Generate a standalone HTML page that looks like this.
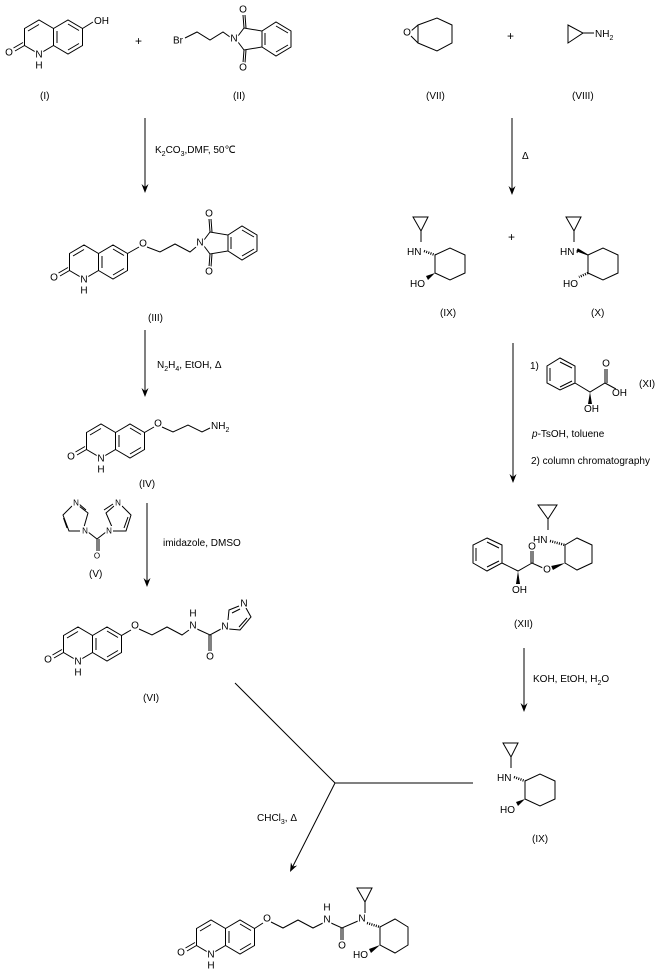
<!DOCTYPE html>
<html><head><meta charset="utf-8"><style>
html,body{margin:0;padding:0;background:#fff;}
svg{display:block;}
text{font-family:"Liberation Sans",Arial,sans-serif;font-size:10px;fill:#000;}
.m{stroke:#fff;stroke-width:3;paint-order:stroke;text-anchor:middle;dominant-baseline:central;}
.l{fill:none;stroke:#000;stroke-width:1;}
.s{font-size:7px;}
</style></head><body>
<svg width="661" height="974" viewBox="0 0 661 974" xmlns="http://www.w3.org/2000/svg">
<defs>
<g id="q">
<path class="l" d="M24.5,28.5 L39,20 L53.5,28.5 L53.5,45.5 L39,54 L24.5,45.5 Z M53.5,28.5 L68,20 L82.5,28.5 L82.5,45.5 L68,54 L53.5,45.5 M28,31 L39,24.5 M68,24 L79,30.5 M79,43.5 L68,50 M57,31 L57,43 M24.5,45.5 L15,51 M23,42.5 L13.5,48"/>
<text class="m" x="9" y="53">O</text>
<text class="m" x="39" y="55">N</text>
<text class="m" x="39" y="66">H</text>
</g>
<g id="p">
<path class="l" d="M4,-3 L10,-11 L28,-8 L28,8 L10,11 L4,3 M10,-11 L9,-24 M12,-11 L11,-24 M10,11 L9,24 M12,11 L11,24 M28,-8 L42,-17 L57,-8 L57,8 L42,17 L28,8 M42,-13 L54,-6 M54,6 L42,13 M31,-6 L31,6"/>
<text class="m" x="0" y="0">N</text>
<text class="m" x="9" y="-29">O</text>
<text class="m" x="9" y="29">O</text>
</g>
<path id="ah" d="M0,0 L-3.5,-9 L0,-6 L3.5,-9 Z" fill="#000"/>
</defs>

<!-- (I) -->
<use href="#q"/>
<path class="l" d="M82.5,28.5 L93,22"/>
<text x="94" y="24">OH</text>
<text x="40" y="99">(I)</text>
<text x="135" y="45" style="font-size:12px">+</text>
<!-- (II) -->
<path class="l" d="M185,38 L197,32 L210,40 L223,32 L230,37"/>
<text class="m" x="178" y="41">Br</text>
<use href="#p" x="234" y="39"/>
<text x="233" y="99">(II)</text>

<!-- arrow 1 -->
<path class="l" d="M145,118 L145,190"/>
<use href="#ah" x="145" y="193"/>
<text x="155" y="153">K<tspan class="s" dy="3">2</tspan><tspan dy="-3">CO</tspan><tspan class="s" dy="3">3</tspan><tspan dy="-3">,DMF,  50℃</tspan></text>

<!-- (III) -->
<use href="#q" x="45" y="225"/>
<path class="l" d="M127.5,253.5 L139,247 M147,247 L160,252 L175,244 L190,252 L196,247"/>
<text class="m" x="143" y="244">O</text>
<use href="#p" x="200" y="243"/>
<text x="148" y="321">(III)</text>

<!-- arrow 2 -->
<path class="l" d="M145,330 L145,394"/>
<use href="#ah" x="145" y="397"/>
<text x="157" y="368">N<tspan class="s" dy="3">2</tspan><tspan dy="-3">H</tspan><tspan class="s" dy="3">4</tspan><tspan dy="-3">, EtOH, Δ</tspan></text>

<!-- (IV) -->
<use href="#q" x="62" y="404"/>
<path class="l" d="M144.5,432.5 L154,427 M162,427 L173,432 L188,425 L202,432 L210,428"/>
<text class="m" x="158" y="424">O</text>
<text x="211" y="429">NH<tspan class="s" dy="3">2</tspan></text>
<text x="139" y="487">(IV)</text>

<!-- (V) -->
<path class="l" d="M79,506 L88,513 L84,527 M80,531 L69,531 L63,515 L72,506 M67,528 L63.5,518 M86,510 L79,504 M88,532 L97,539 L106,532 M97,539 L97,551 M99,539 L99,551 M112,527 L106,513 L114,506 M122,506 L131,515 L126,531 L113,531 M128,517 L124,528 M104,510 L113,504"/>
<text class="m" x="76" y="503" style="font-size:8px">N</text>
<text class="m" x="85" y="531" style="font-size:8px">N</text>
<text class="m" x="118" y="503" style="font-size:8px">N</text>
<text class="m" x="109" y="531" style="font-size:8px">N</text>
<text class="m" x="97" y="556" style="font-size:8px">O</text>
<text x="89" y="577">(V)</text>

<!-- arrow 3 -->
<path class="l" d="M147,503 L147,584"/>
<use href="#ah" x="147" y="587"/>
<text x="163" y="546">imidazole, DMSO</text>

<!-- (VI) -->
<use href="#q" x="39" y="607"/>
<path class="l" d="M121.5,635.5 L131,630 M139,629 L152,635 L167,627 L182,635 L189,630 M197,629 L210,635 L221,629 M209,635 L209,651 M211,635 L211,651 M228,620 L229,610 L239,606 M246,608 L251,617 L240,630 L229,629 M232,613 L240,609 M247,618 L239,627"/>
<text class="m" x="135" y="626">O</text>
<text class="m" x="193" y="626">N</text>
<text class="m" x="193" y="614">H</text>
<text class="m" x="210" y="657">O</text>
<text class="m" x="225" y="627">N</text>
<text class="m" x="244" y="604">N</text>
<text x="143" y="701">(VI)</text>

<!-- right top: (VII) + (VIII) -->
<path class="l" d="M418,25 L437,18 L452,25 L452,43 L437,51 L418,43 Z M418,25 L411,31 M418,43 L411,36"/>
<text class="m" x="407" y="33">O</text>
<text x="426" y="99">(VII)</text>
<text x="507" y="40" style="font-size:12px">+</text>
<path class="l" d="M568,25 L568,43 L583,33 Z M583,33 L594,33"/>
<text x="595" y="37">NH<tspan class="s" dy="3">2</tspan></text>
<text x="572" y="99">(VIII)</text>

<!-- arrow Δ -->
<path class="l" d="M512,118 L512,192"/>
<use href="#ah" x="512" y="195"/>
<text x="522" y="159">Δ</text>

<!-- (IX) -->
<g transform="translate(380,200)">
<path class="l" d="M33,17 L48,17 L41,31 Z M41,31 L41,42 M55,55 L70,48 L85,55 L85,73 L70,80 L55,73 Z"/>
<path d="M44,51 L55,55" stroke="#000" stroke-width="2.5" stroke-dasharray="1,1.3" fill="none"/>
<path d="M55,73 L46,76 L48,80 Z" fill="#000"/>
<text x="27" y="55">HN</text>
<text x="30" y="87">HO</text>
</g>
<text x="440" y="316">(IX)</text>
<text x="508" y="241" style="font-size:12px">+</text>
<!-- (X) -->
<g transform="translate(533,200)">
<path class="l" d="M33,17 L48,17 L41,31 Z M41,31 L41,42 M55,55 L70,48 L85,55 L85,73 L70,80 L55,73 Z"/>
<path d="M44,51 L55,55 L45,49 Z M45,49 L44,53" fill="#000" stroke="#000" stroke-width="1"/>
<path d="M55,73 L46,77" stroke="#000" stroke-width="2.5" stroke-dasharray="1,1.3" fill="none"/>
<text x="27" y="55">HN</text>
<text x="30" y="87">HO</text>
</g>
<text x="591" y="316">(X)</text>

<!-- arrow XI -->
<path class="l" d="M513,343 L513,480"/>
<use href="#ah" x="513" y="483"/>
<text x="530" y="369">1)</text>
<path class="l" d="M560,358 L575,366 L575,383 L560,390 L547,383 L547,366 Z M560,362 L572,368 M572,381 L560,387 M550,368 L550,381 M575,383 L590,392 L605,383 L616,389 M605,383 L605,369 M607,383 L607,369"/>
<path d="M590,392 L588,404 L592,404 Z" fill="#000"/>
<text class="m" x="606" y="364">O</text>
<text x="612" y="396">OH</text>
<text x="584" y="412">OH</text>
<text x="639" y="387">(XI)</text>
<text x="532" y="437"><tspan font-style="italic">p</tspan>-TsOH, toluene</text>
<text x="531" y="464">2) column chromatography</text>

<!-- (XII) -->
<path class="l" d="M538,505 L557,505 L548,519 Z M548,519 L548,530 M565,545 L577,538 L592,545 L592,563 L577,570 L565,563 Z M487,538 L502,545 L502,563 L487,571 L473,563 L473,545 Z M487,542 L499,548 M499,561 L487,567 M476,548 L476,561 M502,563 L518,571 L532,563 L543,568 M531,563 L531,551 M533,563 L533,551"/>
<path d="M550,541 L565,545" stroke="#000" stroke-width="2.5" stroke-dasharray="1,1.3" fill="none"/>
<path d="M565,563 L551,566 L553,570 Z" fill="#000"/>
<path d="M518,571 L516,584 L520,584 Z" fill="#000"/>
<text x="533" y="543">HN</text>
<text class="m" x="532" y="547">O</text>
<text class="m" x="547" y="570">O</text>
<text x="512" y="593">OH</text>
<text x="514" y="627">(XII)</text>

<!-- KOH arrow -->
<path class="l" d="M524,648 L524,709"/>
<use href="#ah" x="524" y="712"/>
<text x="533" y="682">KOH, EtOH, H<tspan class="s" dy="3">2</tspan><tspan dy="-3">O</tspan></text>

<!-- (IX) bottom -->
<g transform="translate(470,726)">
<path class="l" d="M33,17 L48,17 L41,31 Z M41,31 L41,42 M55,55 L70,48 L85,55 L85,73 L70,80 L55,73 Z"/>
<path d="M44,51 L55,55" stroke="#000" stroke-width="2.5" stroke-dasharray="1,1.3" fill="none"/>
<path d="M55,73 L46,76 L48,80 Z" fill="#000"/>
<text x="27" y="55">HN</text>
<text x="30" y="87">HO</text>
</g>
<text x="532" y="842">(IX)</text>

<!-- converging lines -->
<path class="l" d="M235,683 L335,783 L473,783 M335,783 L292,868"/>
<use href="#ah" x="290" y="872" transform="rotate(26.8 290 872)"/>
<text x="257" y="821">CHCl<tspan class="s" dy="3">3</tspan><tspan dy="-3">, Δ</tspan></text>

<!-- final product -->
<use href="#q" x="172" y="900"/>
<path class="l" d="M254.5,928.5 L263,923 M271,922 L283,928 L298,920 L313,928 L323,923 M331,923 L342,928 L358,921 M341,928 L341,940 M343,928 L343,940 M357,888 L372,888 L365,902 Z M365,902 L365,913 M380,927 L395,919 L408,927 L408,945 L395,953 L380,945 Z"/>
<path d="M367,923 L380,927" stroke="#000" stroke-width="2.5" stroke-dasharray="1,1.3" fill="none"/>
<path d="M380,945 L369,949 L371,953 Z" fill="#000"/>
<text class="m" x="267" y="919">O</text>
<text class="m" x="327" y="920">N</text>
<text class="m" x="327" y="908">H</text>
<text class="m" x="342" y="946">O</text>
<text class="m" x="362" y="919">N</text>
<text x="353" y="958">HO</text>
</svg>
</body></html>
